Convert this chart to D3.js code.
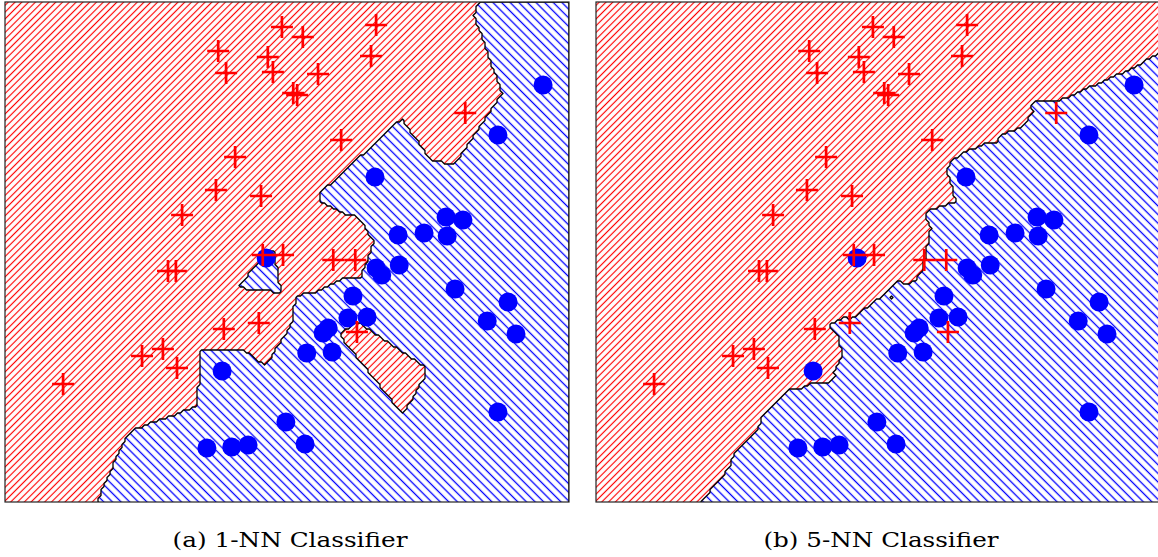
<!DOCTYPE html>
<html>
<head>
<meta charset="utf-8">
<script src="https://cdn.jsdelivr.net/npm/d3@7"></script>
<style>
  body { margin: 0; background: #fff; }
</style>
</head>
<body>
<script>
// class "+" (red crosses), data units 0-100
const redX = [49.1, 37.8, 39.2, 46.6, 47.5, 40.8, 37.4, 45.4, 31.4, 65.8,
              64.9, 52.8, 55.5, 51.1, 51.8, 81.6, 59.6, 28.9, 30.3, 45.7,
              49.3, 38.8, 45.0, 24.3, 28.0, 30.5, 10.3, 58.2, 62.1, 62.4];
const redY = [95.0, 90.2, 85.8, 89.0, 86.0, 69.0, 62.4, 61.2, 57.4, 95.4,
              89.2, 93.0, 85.6, 81.8, 81.4, 77.8, 72.4, 46.2, 46.2, 49.4,
              49.4, 34.6, 35.8, 29.2, 30.6, 26.8, 23.6, 48.4, 48.4, 34.0];

// class "o" (blue dots)
const blueX = [95.4, 87.4, 65.6, 78.2, 81.2, 69.7, 74.3, 78.4, 65.8, 66.8,
               69.9, 79.8, 89.2, 85.5, 90.6, 61.7, 60.8, 64.2, 56.4, 57.3,
               53.5, 58.0, 87.4, 49.8, 53.2, 38.5, 35.8, 40.2, 43.1, 46.3];
const blueY = [83.4, 73.4, 65.0, 57.0, 56.4, 53.4, 53.8, 53.2, 46.8, 45.4,
               47.4, 42.6, 40.0, 36.2, 33.6, 41.2, 36.8, 37.0, 33.8, 34.8,
               29.8, 30.0, 18.0, 16.0, 11.6, 26.2, 10.8, 11.0, 11.4, 48.8];

const kValues = [1, 5];
const captions = ["(a) 1-NN Classifier", "(b) 5-NN Classifier"];

const W = 1158, H = 557;
const panelW = 564, panelH = 500, panelGap = 591;
const cell = 3;

const svg = d3.select("body").append("svg")
    .attr("width", W)
    .attr("height", H);

const defs = svg.append("defs");

const addHatch = (id, color, spacing, angle, width) => {
  const p = defs.append("pattern")
      .attr("id", id)
      .attr("patternUnits", "userSpaceOnUse")
      .attr("width", spacing)
      .attr("height", spacing)
      .attr("patternTransform", `rotate(${angle})`);
  p.append("rect")
      .attr("x", -1).attr("y", -1)
      .attr("width", spacing + 2)
      .attr("height", spacing + 2)
      .attr("fill", "#fff");
  p.append("line")
      .attr("x1", spacing / 2).attr("y1", -1)
      .attr("x2", spacing / 2).attr("y2", spacing + 1)
      .attr("stroke", color)
      .attr("stroke-width", width);
}
addHatch("redHatch", "#ff0000", 4.8, 45, 1.15);
addHatch("blueHatch", "#0000ff", 6.1, -45, 1.3);

const x = d3.scaleLinear().domain([0, 100]).range([0, panelW]);
const y = d3.scaleLinear().domain([0, 100]).range([panelH, 0]);

const points = redX.map((v, i) => ({ px: x(v), py: y(redY[i]), c: 0 }))
  .concat(blueX.map((v, i) => ({ px: x(v), py: y(blueY[i]), c: 1 })));

// majority vote of the k nearest training points
const classify = (gx, gy, k) => {
  const d = points.map((p) => ({ d: (p.px - gx) ** 2 + (p.py - gy) ** 2, c: p.c }));
  d.sort((a, b) => a.d - b.d);
  let blue = 0;
  for (let i = 0; i < k; i++) blue += d[i].c;
  return blue > k / 2 ? 1 : 0;
}

const nx = Math.ceil(panelW / cell), ny = Math.ceil(panelH / cell);

const gridPath = d3.geoPath(d3.geoTransform({
  point: function(px, py) { this.stream.point(px * cell, py * cell); }
}));

kValues.forEach((k, idx) => {
  const left = 5 + idx * panelGap;
  const g = svg.append("g").attr("transform", `translate(${left},2)`);

  g.append("clipPath").attr("id", `clip${idx}`)
    .append("rect")
      .attr("width", panelW)
      .attr("height", panelH);

  const values = new Array(nx * ny);
  for (let j = 0; j < ny; j++) {
    for (let i = 0; i < nx; i++) {
      values[j * nx + i] = classify((i + 0.5) * cell, (j + 0.5) * cell, k);
    }
  }
  const region = d3.contours().size([nx, ny]).thresholds([0.5])(values)[0];

  const area = g.append("g").attr("clip-path", `url(#clip${idx})`);
  area.append("rect")
      .attr("width", panelW)
      .attr("height", panelH)
      .attr("fill", "url(#redHatch)");
  area.append("path")
      .attr("d", gridPath(region))
      .attr("fill", "url(#blueHatch)")
      .attr("fill-rule", "evenodd")
      .attr("stroke", "#000")
      .attr("stroke-width", 1.3)
      .attr("stroke-linejoin", "round");

  area.selectAll("circle")
    .data(blueX.map((v, i) => [v, blueY[i]]))
    .enter().append("circle")
      .attr("cx", (d) => x(d[0]))
      .attr("cy", (d) => y(d[1]))
      .attr("r", 9.5)
      .attr("fill", "#0000ff");

  area.selectAll("path.cross")
    .data(redX.map((v, i) => [v, redY[i]]))
    .enter().append("path")
      .attr("class", "cross")
      .attr("transform", (d) => `translate(${x(d[0])},${y(d[1])})`)
      .attr("d", "M-11,0H11M0,-11V11")
      .attr("stroke", "#ff0000")
      .attr("stroke-width", 2.7);

  g.append("rect")
      .attr("width", panelW)
      .attr("height", panelH)
      .attr("fill", "none")
      .attr("stroke", "#222")
      .attr("stroke-width", 1.2);

  svg.append("text")
      .attr("x", left + panelW / 2 + 3)
      .attr("y", 547)
      .attr("text-anchor", "middle")
      .attr("font-family", "'DejaVu Serif', serif")
      .attr("font-size", 21)
      .attr("textLength", 235)
      .attr("lengthAdjust", "spacingAndGlyphs")
      .attr("fill", "#000")
      .text(captions[idx]);
});
</script>
</body>
</html>
